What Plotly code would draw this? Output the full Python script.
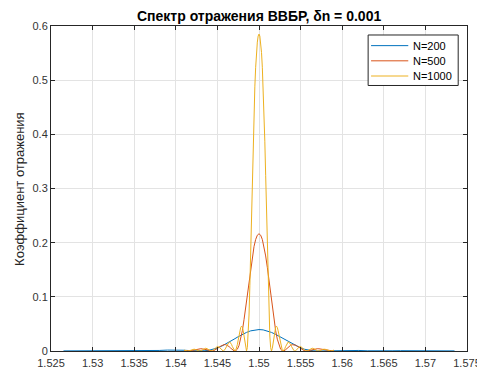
import plotly.graph_objects as go

# ---------------- data ----------------
# N = 1000 (yellow)
x_n1000 = [
    1.5410, 1.5412, 1.5414, 1.5416, 1.5418, 1.5420, 1.5422, 1.5424, 1.5426, 1.5428,
    1.5430, 1.5432, 1.5434, 1.5436, 1.5438, 1.5440, 1.5442, 1.5444, 1.5446, 1.5448,
    1.5450, 1.5452, 1.5454,
    1.5456, 1.5457, 1.5458, 1.5459, 1.5460, 1.5461, 1.5462, 1.5463, 1.5464, 1.5465,
    1.5466, 1.5467, 1.5468, 1.5469, 1.5470, 1.5471, 1.5472, 1.5473, 1.5474, 1.5475,
    1.5476, 1.5477, 1.5478, 1.5479, 1.5480, 1.5481, 1.5482, 1.5483, 1.5484, 1.5485,
    1.5486, 1.5487, 1.5488, 1.5489, 1.5490, 1.5491, 1.5492, 1.5493, 1.5494, 1.5495,
    1.5496, 1.5497, 1.5498, 1.5499,
    1.5500,
    1.5501, 1.5502, 1.5503, 1.5504, 1.5505, 1.5506, 1.5507, 1.5508, 1.5509, 1.5510,
    1.5511, 1.5512, 1.5513, 1.5514, 1.5515, 1.5516, 1.5517, 1.5518, 1.5519, 1.5520,
    1.5521, 1.5522, 1.5523, 1.5524, 1.5525, 1.5526, 1.5527, 1.5528, 1.5529, 1.5530,
    1.5531, 1.5532, 1.5533, 1.5534, 1.5535, 1.5536, 1.5537, 1.5538, 1.5539, 1.5540,
    1.5541, 1.5542, 1.5543, 1.5544,
    1.5546, 1.5548, 1.5550, 1.5552, 1.5554, 1.5556, 1.5558, 1.5560, 1.5562, 1.5564,
    1.5566, 1.5568, 1.5570, 1.5572, 1.5574, 1.5576, 1.5578, 1.5580, 1.5582, 1.5584,
    1.5586, 1.5588, 1.5590,
]
r_n1000 = [
    0.0017, 0.0006, 0.0000, 0.0004, 0.0017, 0.0030, 0.0034, 0.0025, 0.0010, 0.0000,
    0.0005, 0.0023, 0.0043, 0.0051, 0.0040, 0.0018, 0.0002, 0.0005, 0.0032, 0.0066,
    0.0084, 0.0071, 0.0036,
    0.0004, 0.0000, 0.0007, 0.0025, 0.0053, 0.0086, 0.0119, 0.0146, 0.0162, 0.0165,
    0.0150, 0.0121, 0.0082, 0.0043, 0.0013, 0.0000, 0.0012, 0.0052, 0.0118, 0.0201,
    0.0292, 0.0374, 0.0434, 0.0458, 0.0439, 0.0374, 0.0271, 0.0152, 0.0047, 0.0000,
    0.0063, 0.0277, 0.0664, 0.1206, 0.1859, 0.2558, 0.3244, 0.3873, 0.4423, 0.4877,
    0.5238, 0.5512, 0.5702, 0.5814,
    0.5851,
    0.5814, 0.5702, 0.5512, 0.5238, 0.4877, 0.4423, 0.3873, 0.3244, 0.2558, 0.1859,
    0.1206, 0.0664, 0.0277, 0.0063, 0.0000, 0.0047, 0.0152, 0.0271, 0.0374, 0.0439,
    0.0458, 0.0434, 0.0374, 0.0292, 0.0201, 0.0118, 0.0052, 0.0012, 0.0000, 0.0013,
    0.0043, 0.0082, 0.0121, 0.0150, 0.0165, 0.0162, 0.0146, 0.0119, 0.0086, 0.0053,
    0.0025, 0.0007, 0.0000, 0.0004,
    0.0036, 0.0071, 0.0084, 0.0066, 0.0032, 0.0005, 0.0002, 0.0018, 0.0040, 0.0051,
    0.0043, 0.0023, 0.0005, 0.0000, 0.0010, 0.0025, 0.0034, 0.0030, 0.0017, 0.0004,
    0.0000, 0.0006, 0.0017,
]

# N = 500 (red)
x_n500 = [
    1.5410, 1.5412, 1.5414, 1.5416, 1.5418, 1.5420, 1.5422, 1.5424, 1.5426, 1.5428,
    1.5430, 1.5432, 1.5434, 1.5436, 1.5438, 1.5440, 1.5442, 1.5444, 1.5446, 1.5448,
    1.5450, 1.5452, 1.5454, 1.5456, 1.5458, 1.5460, 1.5462, 1.5464, 1.5466, 1.5468,
    1.5470, 1.5472, 1.5474, 1.5476, 1.5478, 1.5480, 1.5482, 1.5484, 1.5486, 1.5488,
    1.5490, 1.5492, 1.5494, 1.5496, 1.5498,
    1.5500,
    1.5502, 1.5504, 1.5506, 1.5508, 1.5510, 1.5512, 1.5514, 1.5516, 1.5518, 1.5520,
    1.5522, 1.5524, 1.5526, 1.5528, 1.5530, 1.5532, 1.5534, 1.5536, 1.5538, 1.5540,
    1.5542, 1.5544, 1.5546, 1.5548, 1.5550, 1.5552, 1.5554, 1.5556, 1.5558, 1.5560,
    1.5562, 1.5564, 1.5566, 1.5568, 1.5570, 1.5572, 1.5574, 1.5576, 1.5578, 1.5580,
    1.5582, 1.5584, 1.5586, 1.5588, 1.5590,
]
r_n500 = [
    0.0005, 0.0002, 0.0000, 0.0001, 0.0005, 0.0012, 0.0020, 0.0028, 0.0036, 0.0041,
    0.0042, 0.0039, 0.0033, 0.0024, 0.0014, 0.0005, 0.0000, 0.0001, 0.0009, 0.0024,
    0.0045, 0.0067, 0.0090, 0.0107, 0.0117, 0.0117, 0.0105, 0.0082, 0.0053, 0.0024,
    0.0003, 0.0003, 0.0033, 0.0102, 0.0218, 0.0377, 0.0579, 0.0810, 0.1058, 0.1308,
    0.1545, 0.1755, 0.1928, 0.2059, 0.2138,
    0.2165,
    0.2138, 0.2059, 0.1928, 0.1755, 0.1545, 0.1308, 0.1058, 0.0810, 0.0579, 0.0377,
    0.0218, 0.0102, 0.0033, 0.0003, 0.0003, 0.0024, 0.0053, 0.0082, 0.0105, 0.0117,
    0.0117, 0.0107, 0.0090, 0.0067, 0.0045, 0.0024, 0.0009, 0.0001, 0.0000, 0.0005,
    0.0014, 0.0024, 0.0033, 0.0039, 0.0042, 0.0041, 0.0036, 0.0028, 0.0020, 0.0012,
    0.0005, 0.0001, 0.0000, 0.0002, 0.0005,
]

# N = 200 (blue)
x_n200 = [
    1.5265, 1.5270, 1.5280, 1.5290, 1.5300, 1.5310, 1.5320, 1.5330, 1.5340, 1.5350,
    1.5360, 1.5370, 1.5380, 1.5390, 1.5400, 1.5410, 1.5420, 1.5425, 1.5430, 1.5435,
    1.5440, 1.5445, 1.5450, 1.5455, 1.5460, 1.5465, 1.5470, 1.5475, 1.5480, 1.5485,
    1.5490, 1.5495,
    1.5500,
    1.5505, 1.5510, 1.5515, 1.5520, 1.5525, 1.5530, 1.5535, 1.5540, 1.5545, 1.5550,
    1.5555, 1.5560, 1.5565, 1.5570, 1.5575, 1.5580, 1.5590, 1.5600, 1.5610, 1.5620,
    1.5630, 1.5640, 1.5650, 1.5660, 1.5670, 1.5680, 1.5690, 1.5700, 1.5710, 1.5720,
    1.5730, 1.5735,
]
r_n200 = [
    0.0002, 0.0002, 0.0000, 0.0000, 0.0002, 0.0005, 0.0007, 0.0006, 0.0004, 0.0001,
    0.0000, 0.0004, 0.0010, 0.0017, 0.0019, 0.0014, 0.0004, 0.0001, 0.0000, 0.0004,
    0.0014, 0.0031, 0.0056, 0.0088, 0.0127, 0.0171, 0.0218, 0.0264, 0.0307, 0.0343,
    0.0372, 0.0390,
    0.0396,
    0.0390, 0.0372, 0.0343, 0.0307, 0.0264, 0.0218, 0.0171, 0.0127, 0.0088, 0.0056,
    0.0031, 0.0014, 0.0004, 0.0000, 0.0001, 0.0004, 0.0014, 0.0019, 0.0017, 0.0010,
    0.0004, 0.0000, 0.0001, 0.0004, 0.0006, 0.0007, 0.0005, 0.0002, 0.0000, 0.0000,
    0.0002, 0.0002,
]

assert len(x_n1000) == len(r_n1000)
assert len(x_n500) == len(r_n500)
assert len(x_n200) == len(r_n200)

series_names = ["N=200", "N=500", "N=1000"]
x_tick_vals = [1.525, 1.53, 1.535, 1.54, 1.545, 1.55, 1.555, 1.56, 1.565, 1.57, 1.575]
x_tick_text = ["1.525", "1.53", "1.535", "1.54", "1.545", "1.55", "1.555", "1.56", "1.565", "1.57", "1.575"]
y_tick_vals = [0, 0.1, 0.2, 0.3, 0.4, 0.5, 0.6]
y_tick_text = ["0", "0.1", "0.2", "0.3", "0.4", "0.5", "0.6"]
title_text = "Спектр отражения ВВБР, δn = 0.001"
y_label = "Коэффициент отражения"

# ---------------- figure ----------------
colors = ["#0072BD", "#D95319", "#EDB120"]
FONT = "Liberation Sans, Arial, Helvetica, sans-serif"

# plot-area geometry in pixels (for placing legend / labels)
W, H = 485, 373
L, R, T, B = 43, 17, 18, 19
PW, PH = W - L - R, H - T - B


def px_x(px):
    return (px - L) / PW


def px_y(py):
    return (H - B - py) / PH


fig = go.Figure()
for name, xs, ys, c in zip(series_names,
                           [x_n200, x_n500, x_n1000],
                           [r_n200, r_n500, r_n1000], colors):
    fig.add_trace(go.Scatter(x=xs, y=ys, mode="lines", name=name,
                             line=dict(color=c, width=1), showlegend=False))

axis_common = dict(
    showline=True, linecolor="#262626", linewidth=1, mirror="allticks",
    ticks="inside", ticklen=4, tickcolor="#262626", tickwidth=1,
    showgrid=True, gridcolor="#e3e3e3", gridwidth=1, zeroline=False,
    tickfont=dict(family=FONT, size=11, color="#333333"),
)

fig.update_layout(
    width=W, height=H,
    margin=dict(l=L, r=R, t=T, b=B),
    paper_bgcolor="white", plot_bgcolor="white",
    font=dict(family=FONT, size=11, color="#262626"),
    xaxis=dict(range=[1.525, 1.575], tickvals=x_tick_vals, ticktext=x_tick_text,
               ticklabelstandoff=2, **axis_common),
    yaxis=dict(range=[0, 0.6], tickvals=y_tick_vals, ticktext=y_tick_text,
               **axis_common),
    showlegend=False,
)

# title
fig.add_annotation(text="<b>" + title_text + "</b>", xref="paper", yref="paper",
                   x=0.5, y=px_y(8), xanchor="center", yanchor="middle",
                   showarrow=False,
                   font=dict(family=FONT, size=14, color="#000000"))

# legend box (MATLAB style, compact)
fig.add_shape(type="rect", xref="paper", yref="paper",
              x0=px_x(367), x1=px_x(459), y0=px_y(79.5), y1=px_y(27.3),
              line=dict(color="#262626", width=1), fillcolor="white", layer="above")
for i, (name, c) in enumerate(zip(series_names, colors)):
    ypx = 38.3 + i * 15.7
    fig.add_shape(type="line", xref="paper", yref="paper",
                  x0=px_x(370), x1=px_x(408), y0=px_y(ypx), y1=px_y(ypx),
                  line=dict(color=c, width=1), layer="above")
    fig.add_annotation(text=name, xref="paper", yref="paper",
                       x=px_x(411), y=px_y(ypx), xanchor="left", yanchor="middle",
                       showarrow=False,
                       font=dict(family=FONT, size=11, color="#000000"))

fig.add_annotation(text=y_label, xref="paper", yref="paper",
                   x=px_x(1), y=0.5, xanchor="left", yanchor="middle",
                   textangle=-90, showarrow=False,
                   font=dict(family=FONT, size=13, color="#262626"))

fig.write_html("out.html")
